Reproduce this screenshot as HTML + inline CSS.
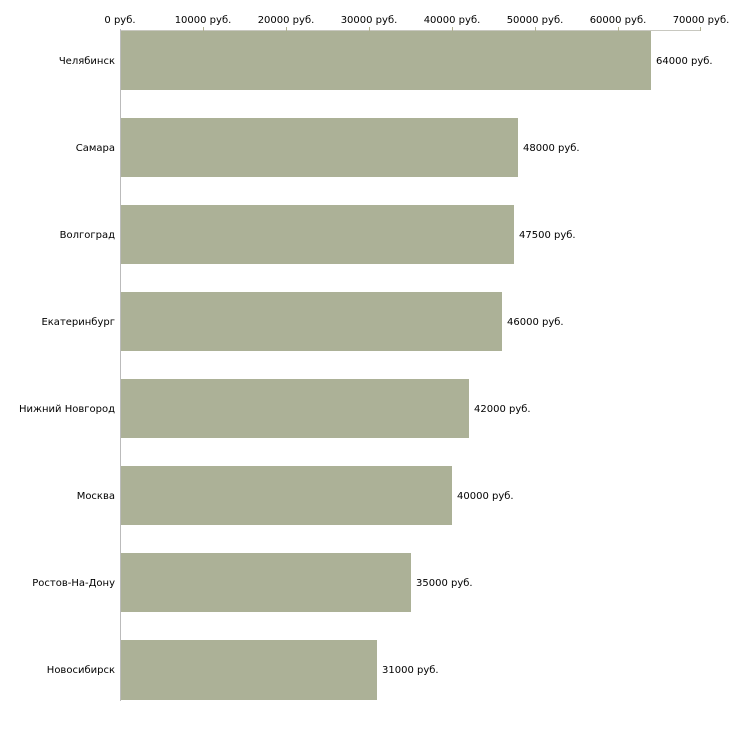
<!DOCTYPE html><html><head><style>body{margin:0;background:#fff}</style></head><body>
<svg width="730" height="730" xmlns="http://www.w3.org/2000/svg" font-family="DejaVu Sans, Liberation Sans, sans-serif" font-size="10" fill="#000">
<g text-anchor="middle">
<text x="120" y="23">0 руб.</text>
<text x="203" y="23">10000 руб.</text>
<text x="286" y="23">20000 руб.</text>
<text x="369" y="23">30000 руб.</text>
<text x="452" y="23">40000 руб.</text>
<text x="535" y="23">50000 руб.</text>
<text x="618" y="23">60000 руб.</text>
<text x="701" y="23">70000 руб.</text>
</g>
<line x1="120" y1="30.5" x2="701" y2="30.5" stroke="#c8c8c0"/>
<g stroke="#b0b090"><line x1="203.5" y1="27" x2="203.5" y2="31"/><line x1="286.5" y1="27" x2="286.5" y2="31"/><line x1="369.5" y1="27" x2="369.5" y2="31"/><line x1="452.5" y1="27" x2="452.5" y2="31"/><line x1="535.5" y1="27" x2="535.5" y2="31"/><line x1="618.5" y1="27" x2="618.5" y2="31"/><line x1="700.5" y1="27" x2="700.5" y2="31"/></g>
<g fill="#acb197">
<rect x="121" y="31" width="530" height="59"/>
<rect x="121" y="118" width="397" height="59"/>
<rect x="121" y="205" width="393" height="59"/>
<rect x="121" y="292" width="381" height="59"/>
<rect x="121" y="379" width="348" height="59"/>
<rect x="121" y="466" width="331" height="59"/>
<rect x="121" y="553" width="290" height="59"/>
<rect x="121" y="640" width="256" height="60"/>
</g>
<line x1="120.5" y1="29" x2="120.5" y2="701" stroke="#bbb"/>
<g text-anchor="end">
<text x="115" y="64">Челябинск</text>
<text x="115" y="151">Самара</text>
<text x="115" y="238">Волгоград</text>
<text x="115" y="325">Екатеринбург</text>
<text x="115" y="412">Нижний Новгород</text>
<text x="115" y="499">Москва</text>
<text x="115" y="586">Ростов-На-Дону</text>
<text x="115" y="673">Новосибирск</text>
</g>
<text x="656" y="64">64000 руб.</text>
<text x="523" y="151">48000 руб.</text>
<text x="519" y="238">47500 руб.</text>
<text x="507" y="325">46000 руб.</text>
<text x="474" y="412">42000 руб.</text>
<text x="457" y="499">40000 руб.</text>
<text x="416" y="586">35000 руб.</text>
<text x="382" y="673">31000 руб.</text>
</svg>
</body></html>
